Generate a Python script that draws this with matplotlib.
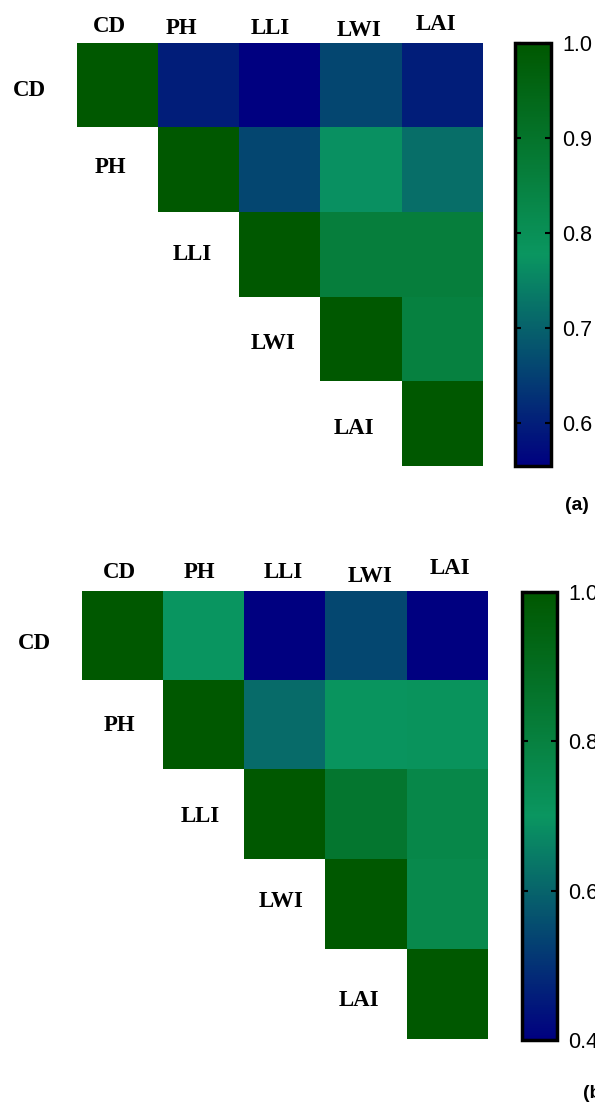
import numpy as np
import matplotlib
matplotlib.use('Agg')
import matplotlib.pyplot as plt
from matplotlib.colors import LinearSegmentedColormap

traits = ['CD', 'PH', 'LLI', 'LWI', 'LAI']
nan = np.nan

# panel (a), upper triangle only
corr_a = [[1.00, 0.60, 0.555, 0.66, 0.60],
          [nan, 1.00, 0.66, 0.77, 0.72],
          [nan, nan, 1.00, 0.86, 0.86],
          [nan, nan, nan, 1.00, 0.85],
          [nan, nan, nan, nan, 1.00]]
ticks_a = [0.6, 0.7, 0.8, 0.9, 1.0]
vmin_a = 0.555

# panel (b)
corr_b = [[1.00, 0.70, 0.40, 0.545, 0.40],
          [nan, 1.00, 0.615, 0.705, 0.71],
          [nan, nan, 1.00, 0.85, 0.77],
          [nan, nan, nan, 1.00, 0.76],
          [nan, nan, nan, nan, 1.00]]
ticks_b = [0.4, 0.6, 0.8, 1.0]
vmin_b = 0.40

cmap = LinearSegmentedColormap.from_list('bg', ['#000080', '#0a9660', '#005800'])
cmap.set_bad('white')

W, H = 595, 1107
fig = plt.figure(figsize=(W/100, H/100), dpi=100)

def rect(x0, y0, x1, y1):
    return [x0/W, 1 - y1/H, (x1-x0)/W, (y1-y0)/H]

# label nudges in pixels (the labels in the original are placed by hand)
col_dx_a = [-8, -17, -10, -2, -6]
col_dy_a = [-17, -14, -15, -12, -18]
row_dx_a = [0, -7, -7, -7, -7]
row_dy_a = [5, -2, 0, 4, 5]
col_dx_b = [-3, -4, -2, 4, 3]
col_dy_b = [-19, -19, -19, -14, -22]
row_dx_b = [0, -3, -4, -4, -7]
row_dy_b = [8, 0, 1, -3, 6]

def panel(data, vmin, ticks, hm, cb, tag, tagpos, cdx, cdy, rdx, rdy):
    ax = fig.add_axes(rect(*hm))
    m = np.ma.masked_invalid(np.array(data, dtype=float))
    im = ax.imshow(m, cmap=cmap, vmin=vmin, vmax=1.0, aspect='auto',
                   interpolation='nearest')
    ax.set_xlim(-0.5, 4.5)
    ax.set_ylim(4.5, -0.5)
    for s in ax.spines.values():
        s.set_visible(False)
    ax.set_xticks([])
    ax.set_yticks([])
    serif = dict(family='Liberation Serif', fontweight='bold', fontsize=16.5,
                 ha='center', va='center', textcoords='offset pixels',
                 annotation_clip=False)
    # column labels on top
    for j, t in enumerate(traits):
        ax.annotate(t, (j, -0.5), xytext=(cdx[j], -cdy[j]), **serif)
    # row labels sit in the empty lower triangle
    ax.annotate(traits[0], (-0.5, 0), xytext=(-48 + rdx[0], -rdy[0]), **serif)
    for i in range(1, 5):
        ax.annotate(traits[i], (i - 1, i), xytext=(rdx[i], -rdy[i]), **serif)

    cax = fig.add_axes(rect(*cb))
    cbar = fig.colorbar(im, cax=cax)
    cbar.set_ticks(ticks)
    cbar.ax.set_yticklabels(['%.1f' % t for t in ticks],
                            family='Liberation Sans', fontsize=15.5)
    cbar.outline.set_linewidth(2.5)
    cax.tick_params(direction='in', length=4, width=1.5, left=True,
                    right=True, labelleft=False, pad=8)
    fig.text(tagpos[0]/W, 1 - tagpos[1]/H, tag, family='Liberation Sans',
             fontweight='bold', fontsize=14, ha='left', va='center')

panel(corr_a, vmin_a, ticks_a, (77, 43, 483, 466), (515, 43, 551, 466),
      '(a)', (565, 506), col_dx_a, col_dy_a, row_dx_a, row_dy_a)
panel(corr_b, vmin_b, ticks_b, (82, 591, 488, 1039), (522, 592, 557, 1040),
      '(b)', (583, 1093), col_dx_b, col_dy_b, row_dx_b, row_dy_b)

fig.savefig('out.png', dpi=100)
